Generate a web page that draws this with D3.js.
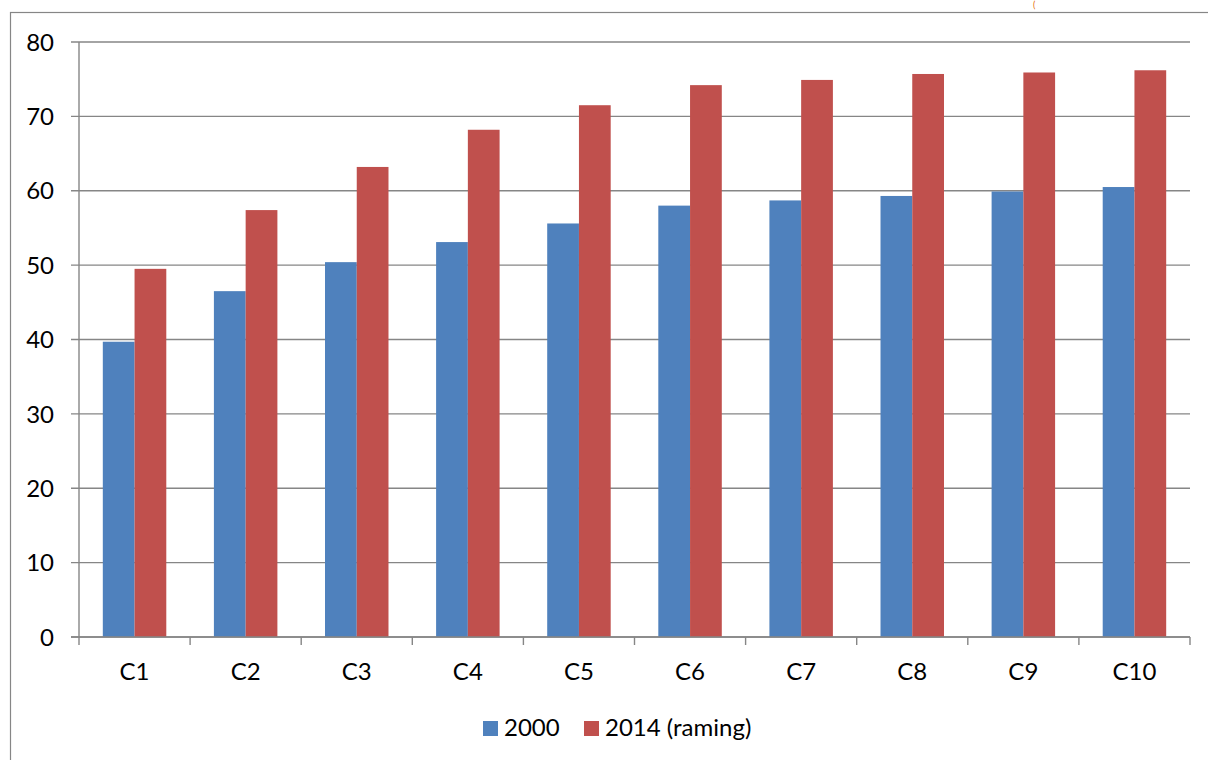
<!DOCTYPE html>
<html>
<head>
<meta charset="utf-8">
<script src="https://cdn.jsdelivr.net/npm/d3@7"></script>
<style>
  html, body { margin: 0; padding: 0; background: #fff; }
  svg { display: block; }
  text { font-family: Lato, "Open Sans", sans-serif; fill: #000; }
</style>
</head>
<body>
<svg id="chart" width="1208" height="760"></svg>
<script>
const categories = ["C1", "C2", "C3", "C4", "C5", "C6", "C7", "C8", "C9", "C10"];
const seriesNames = ["2000", "2014 (raming)"];
const values2000 = [39.7, 46.5, 50.4, 53.1, 55.6, 58.0, 58.7, 59.3, 59.9, 60.5];
const values2014 = [49.5, 57.4, 63.2, 68.2, 71.5, 74.2, 74.9, 75.7, 75.9, 76.2];
const yTicks = [0, 10, 20, 30, 40, 50, 60, 70, 80];

const colors = ["#4f81bd", "#c0504d"];
const gridColor = "#868686";
const FONT = 24;

const svg = d3.select("#chart");
const plot = { left: 79, right: 1190, top: 42, bottom: 637 };

// outer chart frame (runs off the right and bottom of the picture)
svg.append("rect")
  .attr("x", 10.5).attr("y", 12.5)
  .attr("width", 1300).attr("height", 900)
  .attr("fill", "none")
  .attr("stroke", gridColor)
  .attr("stroke-width", 1.2);

// small orange bracket above the frame (remnant of a note)
svg.append("text")
  .attr("x", 1033).attr("y", 8)
  .attr("font-size", 9)
  .style("fill", "#e46c0a")
  .text("(");

const gap = 0.75 / 1.75;
const x0 = d3.scaleBand()
  .domain(categories)
  .range([plot.left, plot.right])
  .paddingInner(gap)
  .paddingOuter(gap / 2);

const x1 = d3.scaleBand()
  .domain(seriesNames)
  .range([0, x0.bandwidth()]);

const y = d3.scaleLinear()
  .domain([0, 80])
  .range([plot.bottom, plot.top]);

// gridlines + y labels
const gGrid = svg.append("g");
gGrid.selectAll("line")
  .data(yTicks)
  .join("line")
  .attr("x1", plot.left - 8)
  .attr("x2", plot.right)
  .attr("y1", d => y(d))
  .attr("y2", d => y(d))
  .attr("stroke", gridColor)
  .attr("stroke-width", 1.4);

gGrid.selectAll("text")
  .data(yTicks)
  .join("text")
  .attr("x", 54)
  .attr("y", d => y(d))
  .attr("dy", "0.36em")
  .attr("text-anchor", "end")
  .attr("font-size", FONT)
  .text(d => d);

// bars
const rows = categories.map((c, i) => ({ cat: c, vals: [values2000[i], values2014[i]] }));

svg.append("g")
  .selectAll("g")
  .data(rows)
  .join("g")
  .attr("transform", d => `translate(${x0(d.cat)},0)`)
  .selectAll("rect")
  .data(d => d.vals.map((v, k) => ({ name: seriesNames[k], v, k })))
  .join("rect")
  .attr("x", d => x1(d.name))
  .attr("width", x1.bandwidth())
  .attr("y", d => y(d.v))
  .attr("height", d => y(0) - y(d.v))
  .attr("fill", d => colors[d.k]);

// axes lines
const step = x0.step();
const boundaries = d3.range(categories.length + 1).map(i => plot.left + i * step);

svg.append("line")
  .attr("x1", plot.left).attr("x2", plot.left)
  .attr("y1", plot.top).attr("y2", plot.bottom)
  .attr("stroke", gridColor).attr("stroke-width", 1.4);

svg.append("line")
  .attr("x1", plot.left - 8).attr("x2", plot.right)
  .attr("y1", plot.bottom).attr("y2", plot.bottom)
  .attr("stroke", gridColor).attr("stroke-width", 1.4);

svg.append("g")
  .selectAll("line")
  .data(boundaries)
  .join("line")
  .attr("x1", d => d).attr("x2", d => d)
  .attr("y1", plot.bottom).attr("y2", plot.bottom + 8)
  .attr("stroke", gridColor).attr("stroke-width", 1.4);

// category labels
svg.append("g")
  .selectAll("text")
  .data(categories)
  .join("text")
  .attr("x", d => x0(d) + x0.bandwidth() / 2)
  .attr("y", 680)
  .attr("text-anchor", "middle")
  .attr("font-size", FONT)
  .text(d => d);

// legend
const legendX = [483, 584];
const legend = svg.append("g")
  .selectAll("g")
  .data(seriesNames)
  .join("g")
  .attr("transform", (d, i) => `translate(${legendX[i]},721)`);

legend.append("rect")
  .attr("width", 15).attr("height", 15)
  .attr("fill", (d, i) => colors[i]);

legend.append("text")
  .attr("x", 21)
  .attr("y", 15)
  .attr("font-size", FONT)
  .text(d => d);
</script>
</body>
</html>
